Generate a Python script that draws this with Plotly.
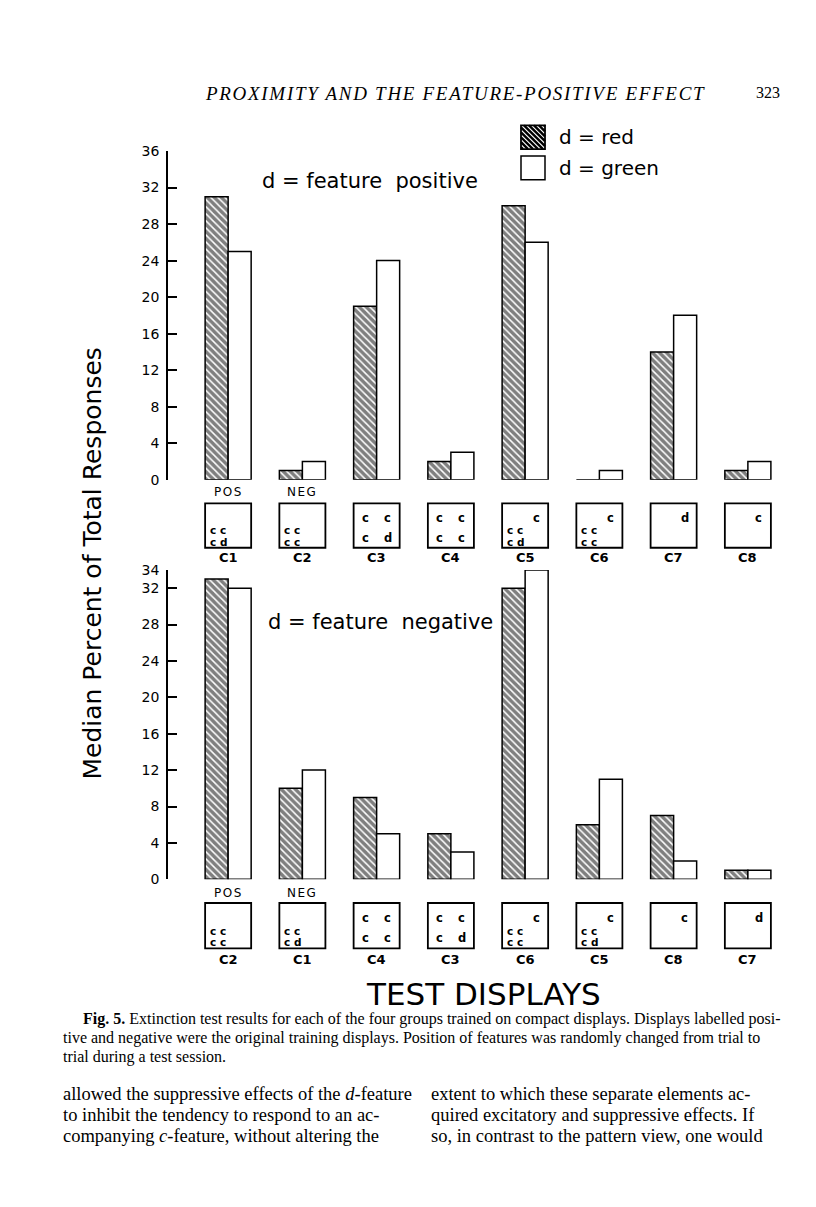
import plotly.graph_objects as go

# ── Data ──────────────────────────────────────────────────────────────────────
top_displays = ["C1", "C2", "C3", "C4", "C5", "C6", "C7", "C8"]
top_red = [31, 1, 19, 2, 30, 0, 14, 1]
top_green = [25, 2, 24, 3, 26, 1, 18, 2]

bottom_displays = ["C2", "C1", "C4", "C3", "C6", "C5", "C8", "C7"]
bottom_red = [33, 10, 9, 5, 32, 6, 7, 1]
bottom_green = [32, 12, 5, 3, 34, 11, 2, 1]

training_labels = ["POS", "NEG"]

top_ticks = [0, 4, 8, 12, 16, 20, 24, 28, 32, 36]
bottom_ticks = [0, 4, 8, 12, 16, 20, 24, 28, 32, 34]

# letters drawn inside each little display square
display_letters = {
    "C1": {"block": ["c c", "c d"]},
    "C2": {"block": ["c c", "c c"]},
    "C3": {"grid": ["c", "c", "c", "d"]},
    "C4": {"grid": ["c", "c", "c", "c"]},
    "C5": {"block": ["c c", "c d"], "corner": "c"},
    "C6": {"block": ["c c", "c c"], "corner": "c"},
    "C7": {"corner": "d"},
    "C8": {"corner": "c"},
}

W, H = 816, 1207
SANS = "DejaVu Sans"
SERIF = "Liberation Serif"


def px_x(p):
    return p / W


def px_y(p):
    return 1 - p / H


def spaced(s, px):
    return f'<span style="letter-spacing:{px}px">{s}</span>'


hatch = dict(shape="\\", fgcolor="black", bgcolor="white", size=5, solidity=0.7)
outline = dict(color="black", width=1.5)

fig = go.Figure()

# ── Bars ──────────────────────────────────────────────────────────────────────
for xs, red, green, xa, ya in [
    (top_displays, top_red, top_green, "x", "y"),
    (bottom_displays, bottom_red, bottom_green, "x2", "y2"),
]:
    fig.add_trace(go.Bar(
        x=xs, y=red, name="d = red", xaxis=xa, yaxis=ya,
        marker=dict(color="white", pattern=hatch, line=outline),
        showlegend=False, cliponaxis=False,
    ))
    fig.add_trace(go.Bar(
        x=xs, y=green, name="d = green", xaxis=xa, yaxis=ya,
        marker=dict(color="white", line=outline),
        showlegend=False, cliponaxis=False,
    ))

shapes = []
annotations = []


def text(x, y, s, size, family=SANS, xref="paper", xanchor="center",
         xshift=0, angle=0, color="black"):
    annotations.append(dict(
        x=x, y=y, text=s, xref=xref, yref="paper", showarrow=False,
        xanchor=xanchor, yanchor="middle", xshift=xshift, textangle=angle,
        font=dict(family=family, size=size, color=color), borderpad=0,
    ))


# ── Display squares under each pair of bars ──────────────────────────────────
HALF = 0.31
rows = [
    (top_displays, "x", 490, 502, 547, 557),
    (bottom_displays, "x2", 897, 907, 953, 964),
]
for names, xref, lab_y, box_top, box_bot, name_y in rows:
    for i, lab in enumerate(training_labels):
        text(i, px_y(lab_y), spaced(lab, 1.5), 12, xref=xref)
    for i, name in enumerate(names):
        shapes.append(dict(
            type="rect", xref=xref, yref="paper",
            x0=i - HALF, x1=i + HALF, y0=px_y(box_bot), y1=px_y(box_top),
            line=dict(color="black", width=1.8), fillcolor="rgba(0,0,0,0)",
        ))
        text(i, px_y(name_y), f"<b>{name}</b>", 13, xref=xref)
        content = display_letters[name]
        if "block" in content:
            for r, row in enumerate(content["block"]):
                text(i - HALF, px_y(box_bot - 18 + 12 * r), f"<b>{row}</b>", 10.5,
                     xref=xref, xanchor="left", xshift=4)
        if "grid" in content:
            for k, ch in enumerate(content["grid"]):
                dx = -11 if k % 2 == 0 else 11
                yy = box_top + 15 + 20 * (k // 2)
                text(i, px_y(yy), f"<b>{ch}</b>", 11.5, xref=xref, xshift=dx)
        if "corner" in content:
            text(i, px_y(box_top + 15), f"<b>{content['corner']}</b>", 11.5,
                 xref=xref, xshift=11)


# ── Legend drawn by hand (large swatches) ────────────────────────────────────
def hatch_path(x0, y0, s, step=5):
    segs = []
    c = -s + 1
    while c < s:
        u0, u1 = max(0, -c), min(s, s - c)
        segs.append(
            f"M{px_x(x0 + u0):.5f},{px_y(y0 + u0 + c):.5f} "
            f"L{px_x(x0 + u1):.5f},{px_y(y0 + u1 + c):.5f}"
        )
        c += step
    return " ".join(segs)


shapes.append(dict(type="path", xref="paper", yref="paper",
                   path=hatch_path(521, 119, 24), line=dict(color="black", width=2.4)))
shapes.append(dict(type="rect", xref="paper", yref="paper",
                   x0=px_x(521), x1=px_x(545), y0=px_y(143), y1=px_y(119),
                   line=dict(color="black", width=1.8)))
shapes.append(dict(type="rect", xref="paper", yref="paper",
                   x0=px_x(521), x1=px_x(545), y0=px_y(174), y1=px_y(150),
                   line=dict(color="black", width=1.5)))
text(px_x(558), px_y(131), "d = red", 20, xanchor="left")
text(px_x(558), px_y(162), "d = green", 20, xanchor="left")

# ── Chart texts ──────────────────────────────────────────────────────────────
text(px_x(370), px_y(175), "d = feature  positive", 21)
text(px_x(380), px_y(622), "d = feature  negative", 21)
text(px_x(93), px_y(563), "Median Percent of Total Responses", 25, angle=-90)
text(px_x(483), px_y(999), "TEST DISPLAYS", 31)

# ── Page texts (running head, caption, body) ─────────────────────────────────
text(px_x(455), px_y(87), spaced("<i>PROXIMITY AND THE FEATURE-POSITIVE EFFECT</i>", 1.7),
     19, family=SERIF)
text(px_x(781), px_y(86), "323", 16, family=SERIF, xanchor="right")

caption = [
    (82, "<b>Fig. 5.</b> Extinction test results for each of the four groups trained on compact displays. Displays labelled posi-"),
    (62, "tive and negative were the original training displays. Position of features was randomly changed from trial to"),
    (62, "trial during a test session."),
]
for k, (x0, line) in enumerate(caption):
    text(px_x(x0), px_y(1025 + 19 * k), line, 16, family=SERIF, xanchor="left")

body_left = [
    "allowed the suppressive effects of the <i>d</i>-feature",
    "to inhibit the tendency to respond to an ac-",
    "companying <i>c</i>-feature, without altering the",
]
body_right = [
    "extent to which these separate elements ac-",
    "quired excitatory and suppressive effects. If",
    "so, in contrast to the pattern view, one would",
]
for k, (a, b) in enumerate(zip(body_left, body_right)):
    text(px_x(62), px_y(1101 + 21 * k), a, 18.5, family=SERIF, xanchor="left")
    text(px_x(430), px_y(1101 + 21 * k), b, 18.5, family=SERIF, xanchor="left")

# ── Axes / layout ────────────────────────────────────────────────────────────
xdom = [px_x(168), px_x(785)]
xrange = [-0.81, 7.5]
yax = dict(
    ticks="inside", ticklen=9, tickwidth=1.5, tickcolor="black",
    showline=True, linecolor="black", linewidth=1.5,
    showgrid=False, zeroline=False, ticklabelstandoff=4,
    tickfont=dict(family=SANS, size=14, color="black"),
)
fig.update_layout(
    width=W, height=H,
    margin=dict(l=0, r=0, t=0, b=0),
    paper_bgcolor="white", plot_bgcolor="white",
    barmode="group", bargap=0.38, bargroupgap=0,
    showlegend=False,
    xaxis=dict(domain=xdom, range=xrange, anchor="y", visible=False),
    xaxis2=dict(domain=xdom, range=xrange, anchor="y2", visible=False),
    yaxis=dict(domain=[px_y(478), px_y(145)], range=[0, 36], tickvals=top_ticks,
               anchor="x", **yax),
    yaxis2=dict(domain=[px_y(883), px_y(569.5)], range=[0, 34], tickvals=bottom_ticks,
                anchor="x2", **yax),
    shapes=shapes,
    annotations=annotations,
)

# the page's default body margin would shift the figure by 8px
fig.write_html(
    "out.html",
    config={"displayModeBar": False},
    post_script="document.body.style.margin='0';document.body.style.overflow='hidden';",
)
